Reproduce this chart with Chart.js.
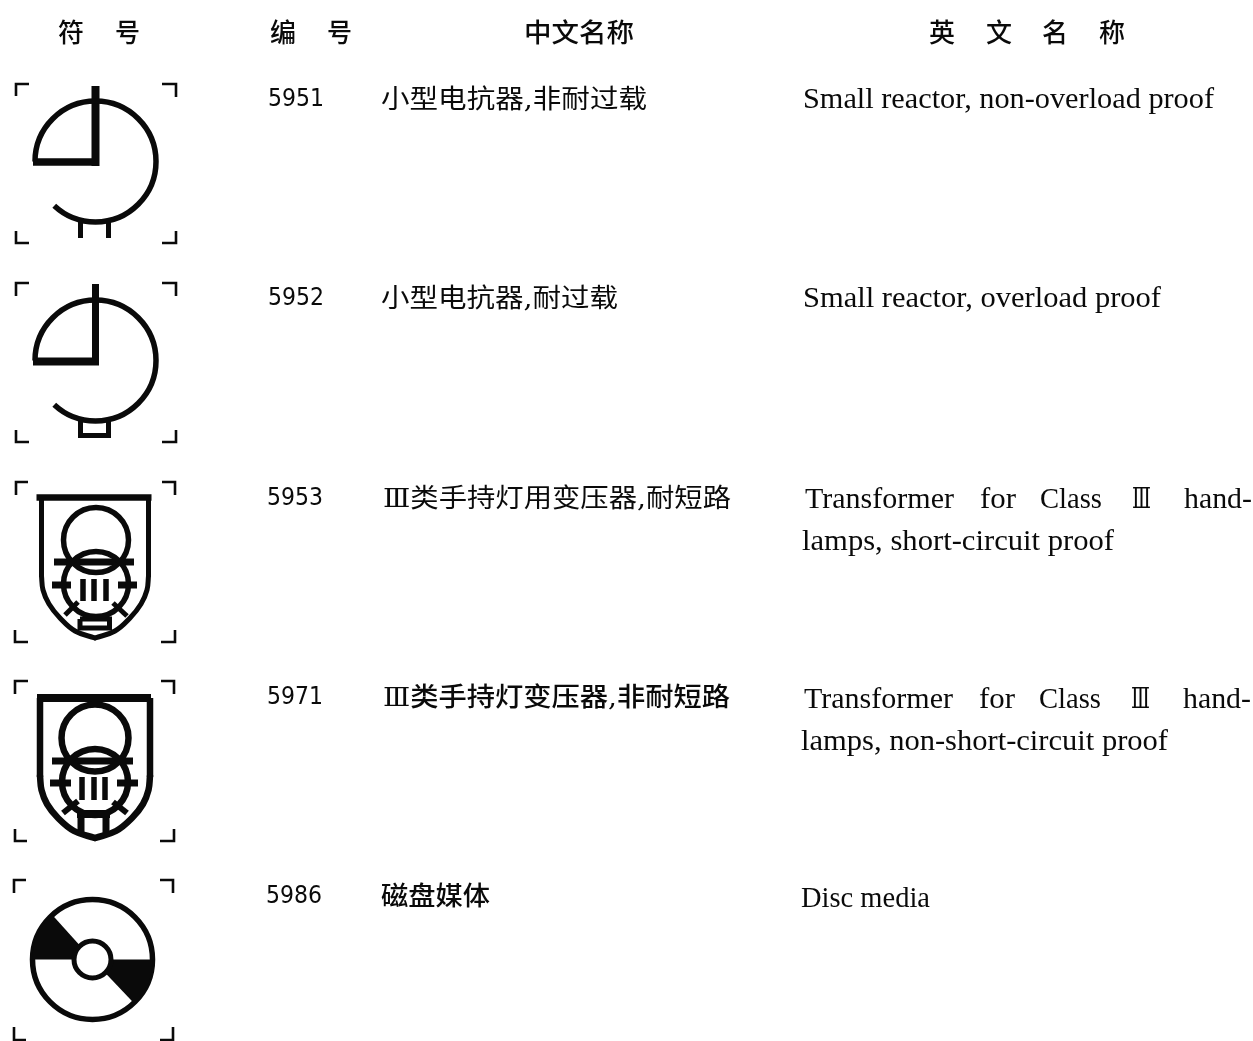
<!DOCTYPE html>
<html><head><meta charset="utf-8">
<style>html,body{margin:0;padding:0;background:#fff}#wrap{width:1253px;height:1041px}</style>
<script src="https://cdn.jsdelivr.net/npm/chart.js@4"></script></head>
<body><div id="wrap"><canvas id="c" width="1253" height="1041"></canvas></div>
<script>
const headers = ['符','号','编','号','中文名称','英','文','名','称'];
const headerX = [[58,26],[115,25],[270,26],[327,25],[524,110],[929,26],[986,26],[1042,26],[1099,26]];
const codes = ['5951','5952','5953','5971','5986'];
const codeX = [268,268,267,267,266];
const rowY = [98,297,497,696,895];
const namesCN = ['小型电抗器,非耐过载','小型电抗器,耐过载','Ⅲ类手持灯用变压器,耐短路','Ⅲ类手持灯变压器,非耐短路','磁盘媒体'];
const cnX = [[381,266],[381,237],[383,348],[383,347],[381,109]];
const cnWeight = [400,400,400,500,500];
const enWords = [
 ['Small reactor, non-overload proof',803,411,108],
 ['Small reactor, overload proof',803,358,307],
 ['Transformer',805,149,508],['for',980,36,508],['Class',1040,62,508],['Ⅲ',1132,19,508],['hand-',1184,68,508],
 ['lamps, short-circuit proof',802,312,550],
 ['Transformer',804,149,708],['for',979,36,708],['Class',1039,62,708],['Ⅲ',1131,19,708],['hand-',1183,68,708],
 ['lamps, non-short-circuit proof',801,367,750],
 ['Disc media',801,129,907]
];
const brackets = [
 [[16,84,16,96,29,84],[176,84,176,97,162,84],[16,243,16,231,29,243],[176,243,176,231,162,243]],
 [[16,283,16,296,29,283],[176,283,176,296,162,283],[16,442,16,430,29,442],[176,442,176,430,162,442]],
 [[16,482,16,495,28,482],[175,482,175,495,162,482],[15,642,15,630,28,642],[175,642,175,630,161,642]],
 [[15,681,15,694,28,681],[174,681,174,694,161,681],[15,841,15,829,27,841],[174,841,174,829,160,841]],
 [[14,880,14,893,26,880],[173,880,173,893,160,880],[14,1040,14,1027,26,1040],[173,1040,173,1027,160,1040]]
];
// polylines: width, then x,y pairs
const lines = [
 [8,95.5,86,95.5,166],[7.5,33,162,99,162],[5,80.5,222,80.5,238],[5,108.5,222,108.5,238],
 [7,95.5,284,95.5,365],[8,33,361.5,99,361.5],[5,80.5,421,80.5,438],[5,108.5,421,108.5,438],[5,78,435.5,111,435.5],
 [6.5,36.5,497.5,151.5,497.5],
 [5,41.5,497,41.5,577],[5,148.5,497,148.5,577],
 [7,54,562,134,562],[7,52,585,71,585],[7,118,585,137,585],
 [5.5,83,579,83,601],[5.5,94,579,94,601],[5.5,106,579,106,601],
 [5,65,615,78,602],[5,113,603,127,616],
 [5,80,619,109.5,619,109.5,628,80,628,80,619],
 [8,37,698,151,698],
 [6.5,40,698,40,777],[6.5,150,698,150,777],
 [7,52,761,133,761],[7,50,783,71,783],[7,117,783,138,783],
 [5.5,82,777,82,800],[5.5,94,777,94,800],[5.5,105,777,105,800],
 [6,63,813,78,801],[6,113,802,127,813],
 [8,77,814,110,814],[7,81,814,81,834],[7,106,814,106,834]
];
// curved shield flanks: width, then x,y pairs
const flanks = [
 [5,41.5,576,43,590,49,604,60,618,75,631,95,638],
 [5,148.5,576,147,590,141,604,130,618,115,631,95,638],
 [6.5,40,776,41.5,790,47,804,58,818,74,831,95,838],
 [6.5,150,776,148.5,790,143,804,132,818,116,831,95,838]
];
// arcs: cx, cy, r, start deg, end deg, width
const arcs = [
 [95.5,161.5,60.5,180,493,5.5],[95.5,360.5,60.5,180,493,5.5],
 [96,540,32.5,0,360,5.5],[96,584,32.5,0,360,5.5],
 [95,738,33.5,0,360,6.5],[95,782,33,0,360,6.5],
 [92.5,959.5,60,0,360,5.5]
];
const sectors = [[92.5,959.5,60,180,228],[92.5,959.5,60,0,46.5]];
const hubs = [[92.5,959.5,18.5,5]];
const ink = '#0a0a0a';

const toXY = a => { const p=[]; for(let i=0;i<a.length;i+=2) p.push({x:a[i],y:a[i+1]}); return p; };
const datasets = [];
lines.forEach(l => datasets.push({data:toXY(l.slice(1)),borderWidth:l[0],tension:0}));
flanks.forEach(l => datasets.push({data:toXY(l.slice(1)),borderWidth:l[0],tension:0.4,borderCapStyle:'round'}));
brackets.flat().forEach(b => datasets.push({data:[{x:b[2],y:b[3]},{x:b[0],y:b[1]},{x:b[4],y:b[5]}],borderWidth:2.6,tension:0}));
datasets.forEach(d => Object.assign(d,{showLine:true,borderColor:ink,pointRadius:0,borderJoinStyle:'miter',fill:false,parsing:false}));

const rad = d => d*Math.PI/180;
const cjk = '"Noto Sans CJK SC"';
function fit(ctx,text,x,w,y,font,base){
  ctx.save(); ctx.font=font; ctx.textBaseline=base; ctx.textAlign='left'; ctx.fillStyle=ink;
  const m=ctx.measureText(text).width;
  ctx.translate(x,y); ctx.scale(w/m,1); ctx.fillText(text,0,0); ctx.restore();
}
const painter = {
  id:'painter',
  afterDatasetsDraw(chart){
    const {ctx,scales:{x:sx,y:sy}}=chart;
    const R = r => Math.abs(sx.getPixelForValue(r)-sx.getPixelForValue(0));
    ctx.save();
    ctx.strokeStyle=ink; ctx.fillStyle=ink; ctx.lineCap='butt';
    arcs.forEach(a=>{ctx.beginPath();ctx.lineWidth=a[5];ctx.arc(sx.getPixelForValue(a[0]),sy.getPixelForValue(a[1]),R(a[2]),rad(a[3]),rad(a[4]));ctx.stroke();});
    sectors.forEach(s=>{const cx=sx.getPixelForValue(s[0]),cy=sy.getPixelForValue(s[1]);ctx.beginPath();ctx.moveTo(cx,cy);ctx.arc(cx,cy,R(s[2]),rad(s[3]),rad(s[4]));ctx.closePath();ctx.fill();});
    hubs.forEach(h=>{const cx=sx.getPixelForValue(h[0]),cy=sy.getPixelForValue(h[1]);ctx.beginPath();ctx.arc(cx,cy,R(h[2]),0,7);ctx.fillStyle='#fff';ctx.fill();ctx.lineWidth=h[3];ctx.stroke();});
    ctx.restore();
    headers.forEach((t,i)=>fit(ctx,t,sx.getPixelForValue(headerX[i][0]),headerX[i][1],sy.getPixelForValue(32),'500 26px '+cjk,'middle'));
    codes.forEach((t,i)=>fit(ctx,t,sx.getPixelForValue(codeX[i]),56,sy.getPixelForValue(rowY[i]+2),'24px "DejaVu Sans"','middle'));
    namesCN.forEach((t,i)=>fit(ctx,t,sx.getPixelForValue(cnX[i][0]),cnX[i][1],sy.getPixelForValue(rowY[i]+3),cnWeight[i]+' 26px "DejaVu Serif",'+cjk,'middle'));
    enWords.forEach(w=>fit(ctx,w[0],sx.getPixelForValue(w[1]),w[2],sy.getPixelForValue(w[3]),(w[0]==='Ⅲ'?'27px "DejaVu Serif"':'29px "Liberation Serif"'),'alphabetic'));
  }
};
new Chart(document.getElementById('c'),{
  type:'scatter',
  data:{datasets},
  options:{
    responsive:false,animation:false,events:[],
    layout:{padding:0},
    plugins:{legend:{display:false},title:{display:false},tooltip:{enabled:false}},
    scales:{
      x:{type:'linear',min:0,max:1253,display:false},
      y:{type:'linear',min:0,max:1041,reverse:true,display:false}
    }
  },
  plugins:[painter]
});
</script></body></html>
